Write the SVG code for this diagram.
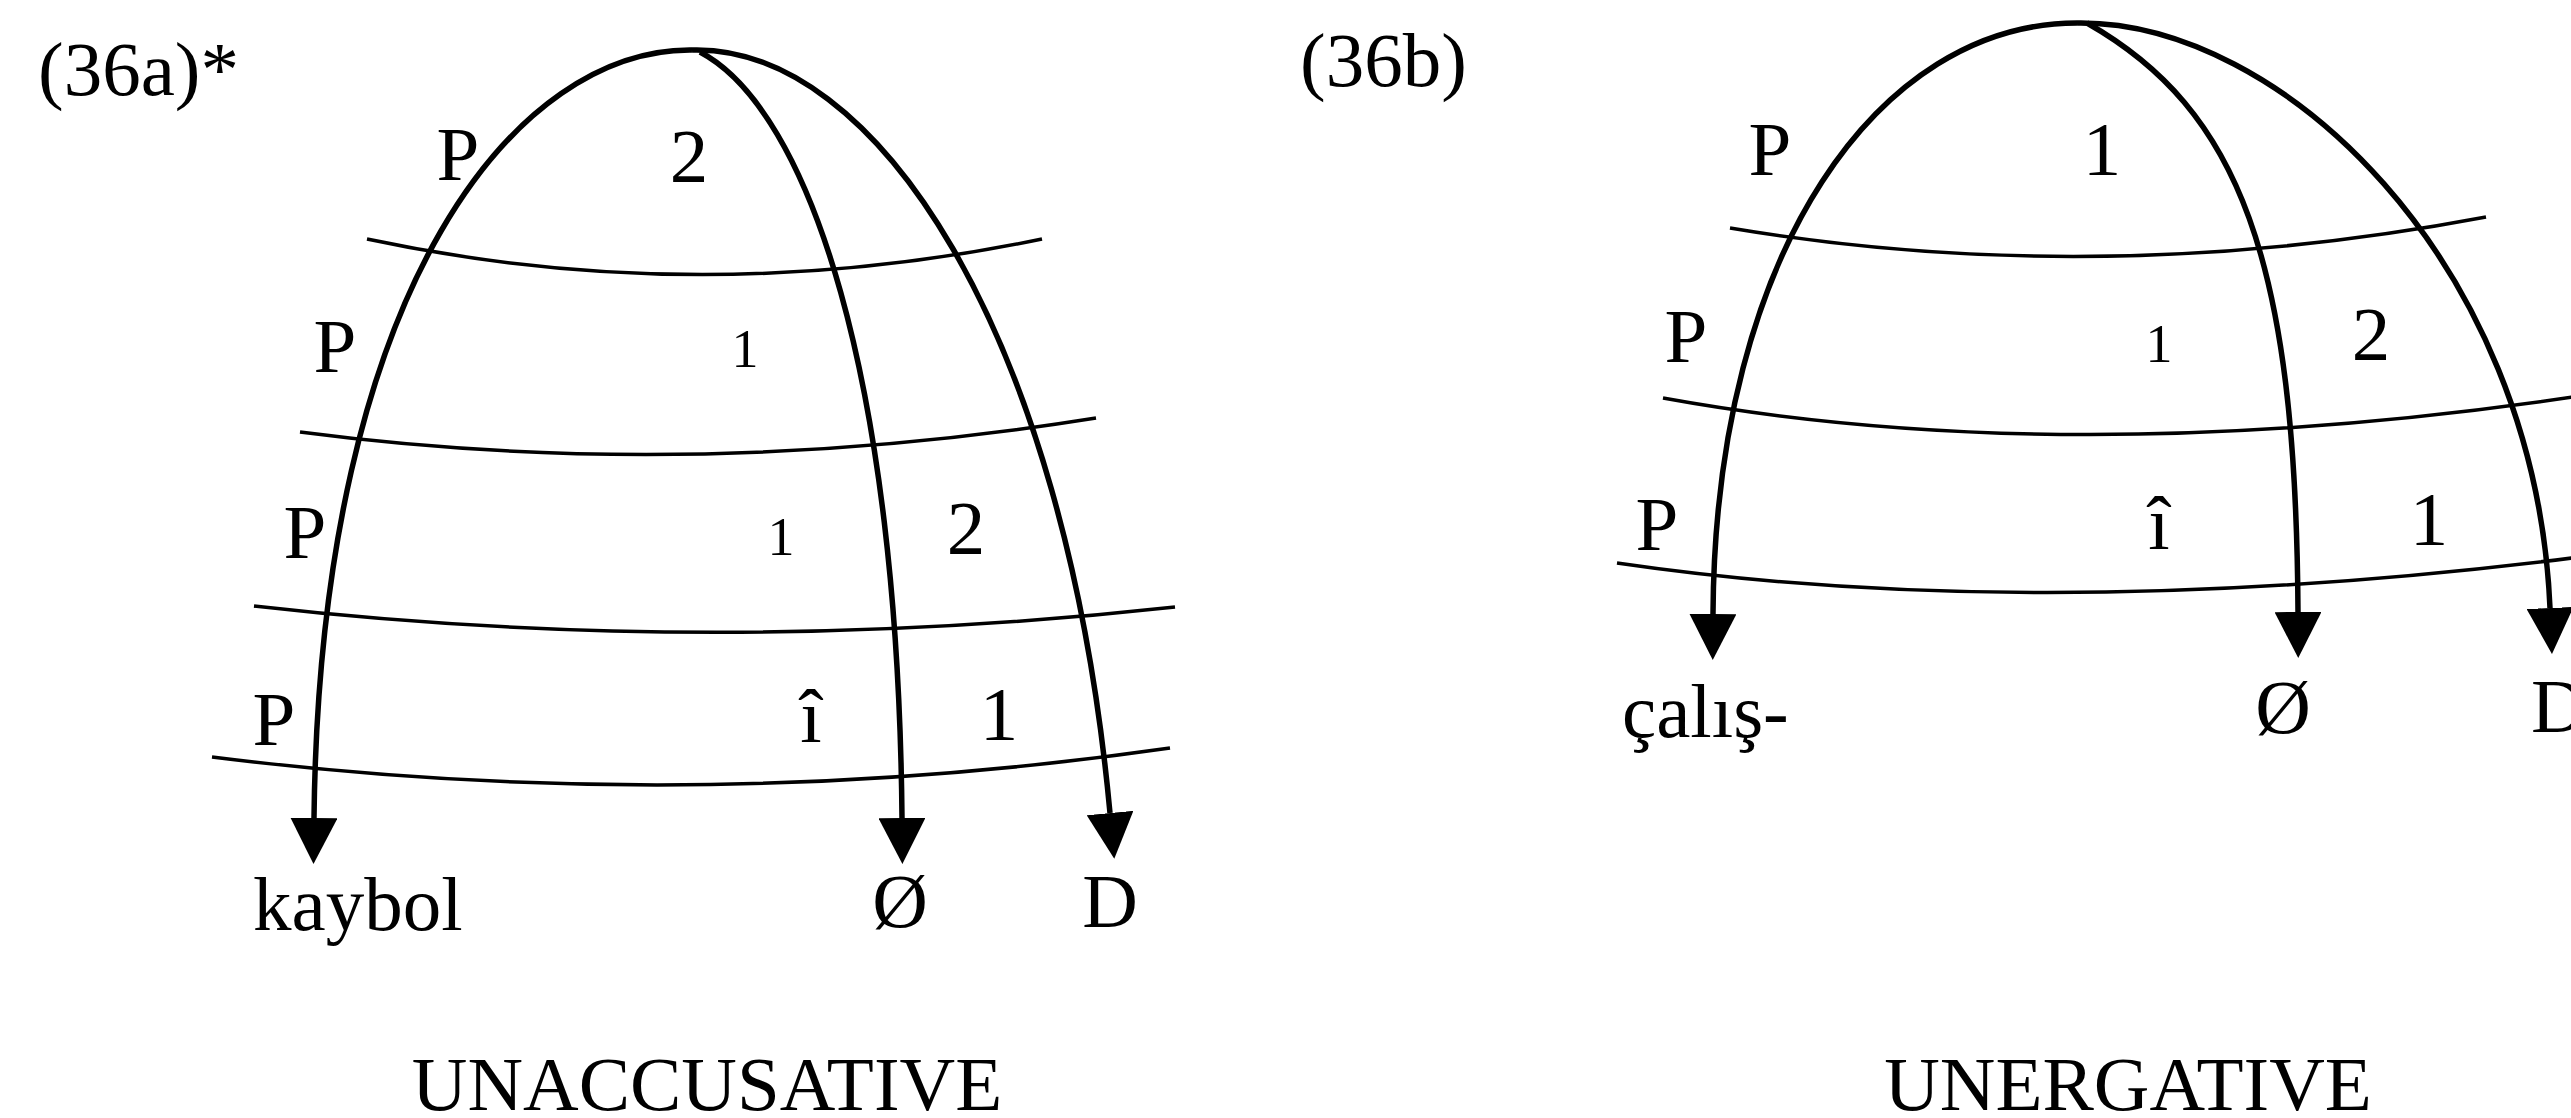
<svg xmlns="http://www.w3.org/2000/svg" width="2571" height="1118" viewBox="0 0 2571 1118">
<style>
text{font-family:"Liberation Serif","Times New Roman",serif;font-size:77px;fill:#000}
.m{text-anchor:middle}
.s{font-size:54px}
.arc{fill:none;stroke:#000;stroke-width:5.5}
.ln{fill:none;stroke:#000;stroke-width:3.5}
</style>
<defs>
<marker id="ah" markerUnits="userSpaceOnUse" markerWidth="46" markerHeight="47" viewBox="0 0 46 47" refX="0" refY="23.5" orient="auto">
<path d="M0,0 L46,23.5 L0,47 z" fill="#000"/>
</marker>
</defs>
<g id="strata-a">
<path class="ln" d="M367,239 Q700,310 1042,239"/>
<path class="ln" d="M300,432 Q690,483 1096,418"/>
<path class="ln" d="M254,606 Q710,658 1175,607"/>
<path class="ln" d="M212,757 Q690,817 1170,748"/>
</g>
<g id="strata-b">
<path class="ln" d="M1730,228 Q2100,290 2486,217"/>
<path class="ln" d="M1663,398 Q2070,472 2580,396"/>
<path class="ln" d="M1617,563 Q2040,625 2580,557"/>
</g>
<g id="connectors">
<path class="arc" marker-end="url(#ah)" d="M692,50 C520,48 320,280 314,818"/>
<path class="arc" marker-end="url(#ah)" d="M700,52 C810,110 898,380 902,818"/>
<path class="arc" marker-end="url(#ah)" d="M692,50 C875,45 1065,330 1110,813"/>
<path class="arc" marker-end="url(#ah)" d="M2077,23 C1880,23 1715,250 1713,614"/>
<path class="arc" marker-end="url(#ah)" d="M2087,23 C2240,110 2296,260 2298,612"/>
<path class="arc" marker-end="url(#ah)" d="M2077,23 C2280,20 2535,260 2550,608"/>
</g>
<g id="diagram-a">
<text x="38" y="95">(36a)*</text>
<text class="m" x="458" y="180">P</text>
<text class="m" x="689" y="182">2</text>
<text class="m" x="335" y="372">P</text>
<text class="m s" x="745" y="367">1</text>
<text class="m" x="305" y="558">P</text>
<text class="m s" x="781" y="555">1</text>
<text class="m" x="966" y="554">2</text>
<text class="m" x="274" y="745">P</text>
<text class="m" x="811" y="742">î</text>
<text class="m" x="999" y="740">1</text>
<text x="253" y="930">kaybol</text>
<text class="m" x="900" y="927">Ø</text>
<text class="m" x="1110" y="927">D</text>
<text class="m" x="707" y="1110">UNACCUSATIVE</text>
</g>
<g id="diagram-b">
<text x="1300" y="86">(36b)</text>
<text class="m" x="1770" y="175">P</text>
<text class="m" x="2102" y="175">1</text>
<text class="m" x="1686" y="362">P</text>
<text class="m s" x="2159" y="362">1</text>
<text class="m" x="2371" y="360">2</text>
<text class="m" x="1657" y="550">P</text>
<text class="m" x="2159" y="549">î</text>
<text class="m" x="2429" y="545">1</text>
<text x="1622" y="737">çalış-</text>
<text class="m" x="2283" y="733">Ø</text>
<text x="2531" y="732">D</text>
<text class="m" x="2128" y="1110">UNERGATIVE</text>
</g>
</svg>
